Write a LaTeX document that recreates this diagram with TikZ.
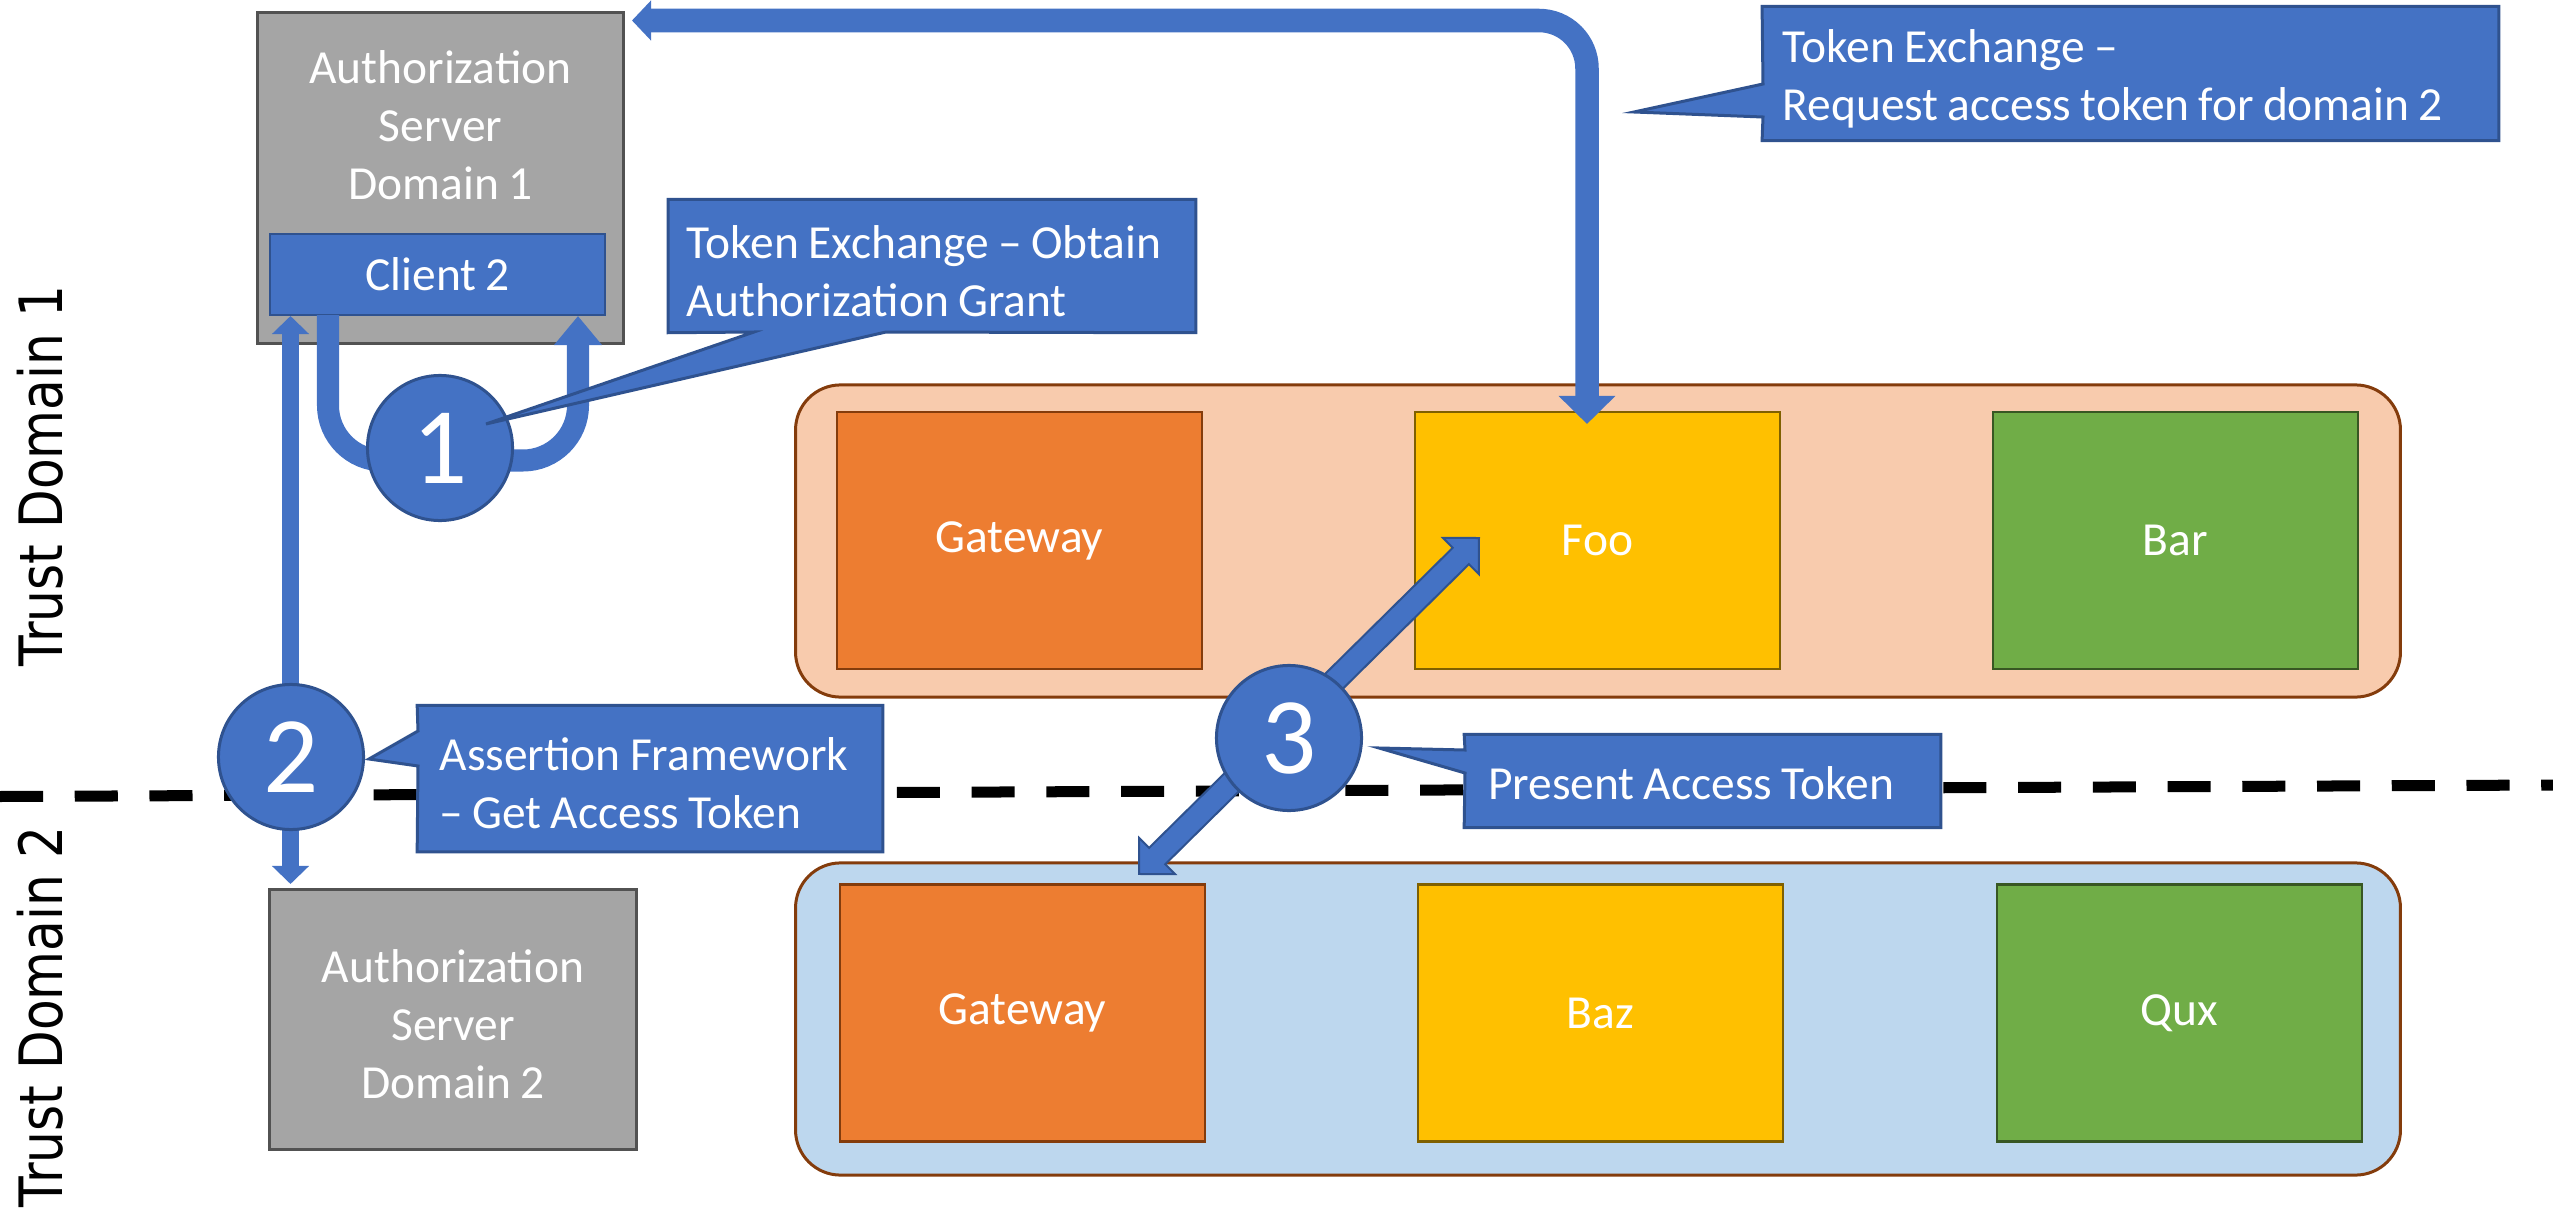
\documentclass[tikz,border=0pt]{standalone}
\usepackage{graphicx}
\usepackage{fontspec}
\setmainfont{Carlito}[WordSpace=0.85]
\newfontfamily\domainfont{DejaVu Sans}
\usetikzlibrary{arrows.meta}

\definecolor{accblue}{HTML}{4472C4}
\definecolor{accbluedark}{HTML}{2F528F}
\definecolor{srvgray}{HTML}{A5A5A5}
\definecolor{srvgraydark}{HTML}{525252}
\definecolor{peach}{HTML}{F8CBAD}
\definecolor{paleblue}{HTML}{BDD7EE}
\definecolor{rimbrown}{HTML}{843C0C}
\definecolor{svcorange}{HTML}{ED7D31}
\definecolor{svcgold}{HTML}{FFC000}
\definecolor{svcgolddark}{HTML}{7F6000}
\definecolor{svcgreen}{HTML}{70AD47}
\definecolor{svcgreendark}{HTML}{385723}

% service names sit a little below the box centre
\newcommand{\svcname}[1]{\raisebox{-0.06cm}{#1}}

\begin{document}
\begin{tikzpicture}[x=0.01cm, y=-0.01cm,
  lbl/.style={text=white, font=\fontsize{13.5}{16.5}\selectfont, inner sep=0pt, align=center},
  server/.style={rectangle, draw=srvgraydark, fill=srvgray, line width=0.03cm, inner sep=0pt},
  client/.style={rectangle, draw=accbluedark, fill=accblue, line width=0.025cm, inner sep=0pt},
  zone/.style={rectangle, rounded corners=0.45cm, draw=rimbrown, line width=0.03cm,
    minimum width=16.04cm, minimum height=3.12cm, inner sep=0pt},
  svc/.style={rectangle, line width=0.025cm, minimum width=3.65cm, minimum height=2.57cm,
    inner sep=0pt, text=white, font=\fontsize{13.5}{16.5}\selectfont},
  flow/.style={draw=accblue},
  badge/.style={circle, fill=accblue, draw=accbluedark, line width=0.03cm, minimum size=1.45cm,
    inner sep=0pt, text=white, font=\fontsize{31}{31}\selectfont},
  callout/.style={fill=accblue, draw=accbluedark, line width=0.03cm, line join=miter},
  cframe/.style={rectangle, inner sep=0pt},
  ctext/.style={lbl, align=left, anchor=west},
  tdlabel/.style={rotate=90, anchor=base, inner sep=0pt, font=\domainfont\fontsize{17}{17}\selectfont}
]
\useasboundingbox (0,0) rectangle (2553,1218);

% service zones
\node[zone, fill=peach] (zone1) at (1598,541) {};
\node[zone, fill=paleblue] (zone2) at (1598,1019) {};

% services
\node[svc, fill=svcorange, draw=rimbrown] (gw1) at (1019.5,540.5) {\svcname{Gateway}};
\node[svc, fill=svcgold, draw=svcgolddark] (foo) at (1597.5,540.5) {\svcname{Foo}};
\node[svc, fill=svcgreen, draw=svcgreendark] (bar) at (2175.5,540.5) {\svcname{Bar}};
\node[svc, fill=svcorange, draw=rimbrown] (gw2) at (1022.5,1013) {\svcname{Gateway}};
\node[svc, fill=svcgold, draw=svcgolddark] (baz) at (1600.5,1013) {\svcname{Baz}};
\node[svc, fill=svcgreen, draw=svcgreendark] (qux) at (2179.5,1013) {\svcname{Qux}};

% authorization servers
\node[server, minimum width=3.65cm, minimum height=3.30cm] (as1) at (440.5,178) {};
\node[lbl] (as1label) at (440.5,125) {Authorization\\Server\\Domain 1};
\node[client, lbl, minimum width=3.35cm, minimum height=0.81cm] (client2) at (437.5,274.5) {Client 2};
\node[server, minimum width=3.66cm, minimum height=2.59cm] (as2) at (453,1019.5) {};
\node[lbl] (as2label) at (453,1024) {Authorization\\Server\\Domain 2};

% trust boundary
\coordinate (tbL) at (0,796.5);
\coordinate (tbR) at (2553,785);
\draw[line width=0.11cm, dash pattern=on 0.43cm off 0.317cm] (tbL) -- (tbR);
\node[tdlabel] (td1) at (62,476) {\scalebox{0.84}[1]{Trust Domain 1}};
\node[tdlabel] (td2) at (62,1017) {\scalebox{0.84}[1]{Trust Domain 2}};

% connectors
\coordinate (fooTop) at (1587,424);
\coordinate (as1East) at (632,20.5);
\draw[flow, line width=0.235cm, rounded corners=0.48cm,
  {Triangle[width=0.55cm,length=0.28cm]}-{Triangle[width=0.39cm,length=0.19cm]}]
  (fooTop) |- (as1East);

\coordinate (c2L) at (328,315);
\coordinate (c2R) at (578,316);
\draw[flow, line width=0.22cm, rounded corners=0.55cm, -{Triangle[width=0.46cm,length=0.29cm]}]
  (c2L) -- ++(0,145.5) -| (c2R);

\coordinate (as1Low) at (290.5,316);
\coordinate (as2Top) at (290.5,884);
\draw[flow, line width=0.17cm,
  {Triangle[width=0.36cm,length=0.18cm]}-{Triangle[width=0.36cm,length=0.18cm]}]
  (as1Low) -- (as2Top);

% double block arrow between the two domains' services
\begin{scope}[shift={(1309,706)}, rotate=44.66]
  \draw[callout, line width=0.02cm] (-239,0) -- (-213.5,25.5) -- (-213.5,11.5) -- (213.5,11.5)
    -- (213.5,25.5) -- (239,0) -- (213.5,-25.5) -- (213.5,-11.5) -- (-213.5,-11.5)
    -- (-213.5,-25.5) -- cycle;
\end{scope}

% step badges
\node[badge] (n1) at (440,448) {\raisebox{-0.07cm}{1}};
\node[badge] (n2) at (291,757) {\raisebox{-0.07cm}{2}};
\node[badge] (n3) at (1289,738) {\raisebox{-0.07cm}{3}};

% callouts
\path node[cframe, minimum width=5.26cm, minimum height=1.32cm] (c1) at (932,266) {};
\draw[callout] (c1.north west) -- (c1.north east) -- (c1.south east) -- (886,332)
  -- (486,424) -- (754,332) -- (c1.south west) -- cycle;
\node[ctext] (c1text) at (686,271) {Token Exchange – Obtain\\Authorization Grant};

\path node[cframe, minimum width=7.35cm, minimum height=1.33cm] (c2) at (2130.5,73.5) {};
\draw[callout] (c2.north west) -- (c2.north east) -- (c2.south east) -- (c2.south west)
  -- (1763,117) -- (1634,112) -- (1763,84) -- cycle;
\node[ctext] (c2text) at (1782,78.5) {Token Exchange –\\Request access token for domain 2};

\path node[cframe, minimum width=4.64cm, minimum height=1.45cm] (c3) at (650,778.5) {};
\draw[callout] (c3.north west) -- (c3.north east) -- (c3.south east) -- (c3.south west)
  -- (418,766) -- (369,759) -- (418,731) -- cycle;
\node[ctext] (c3text) at (439,783) {Assertion Framework\\– Get Access Token};

\path node[cframe, minimum width=4.75cm, minimum height=0.92cm] (c4) at (1702.5,781) {};
\draw[callout] (c4.north west) -- (c4.north east) -- (c4.south east) -- (c4.south west)
  -- (1465,773) -- (1379,748) -- (1465,750) -- cycle;
\node[lbl] (c4text) at (1691,783) {Present Access Token};
\end{tikzpicture}
\end{document}
